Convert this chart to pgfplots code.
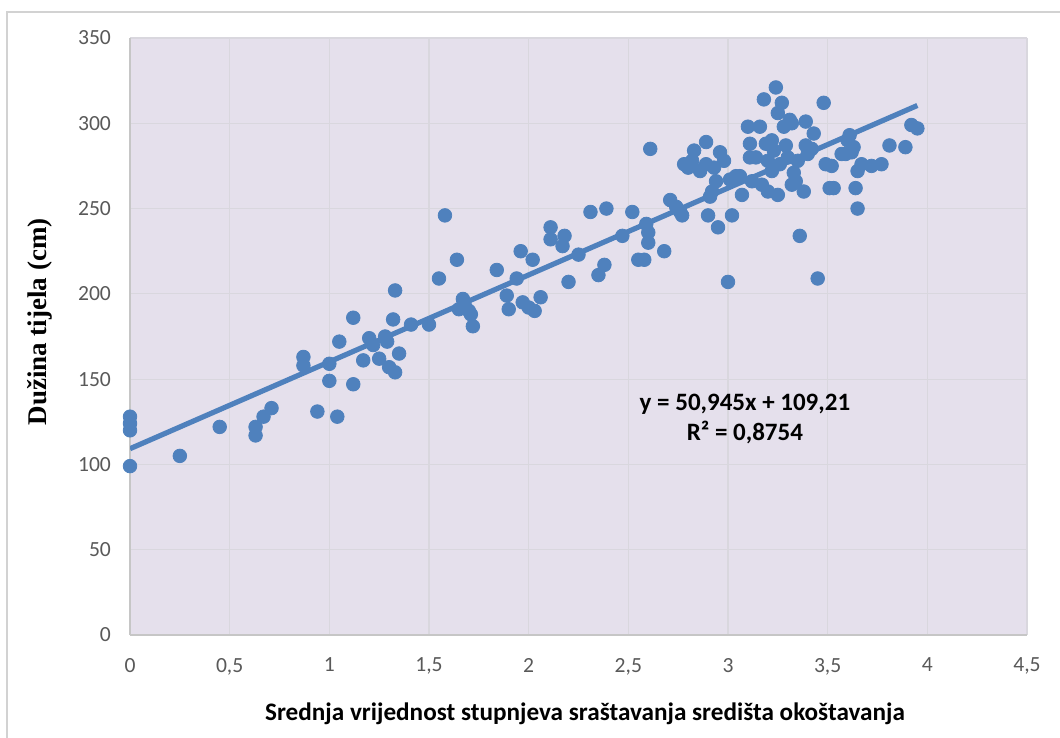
\documentclass[border=0pt]{standalone}
\usepackage{fontspec}
\setmainfont{Carlito}
\newfontfamily\serifbold{Liberation Serif}
\usepackage{pgfplots}
\pgfplotsset{compat=1.18}

\definecolor{plotbg}{RGB}{229,224,236}
\definecolor{ptblue}{RGB}{79,129,189}
\definecolor{gridgray}{RGB}{217,215,222}
\definecolor{ticktext}{RGB}{89,89,89}

\begin{document}
\begin{tikzpicture}
\path[use as bounding box] (0,0) rectangle (530pt,369pt);
% outer chart frame (right and bottom fall outside the crop)
\draw[gray!35, line width=1pt] (3.5pt,-10pt) rectangle (545pt,363pt);

\begin{axis}[
    at={(65pt,51.5pt)}, anchor=south west,
    scale only axis,
    width=448.5pt, height=298.5pt,
    xmin=0, xmax=4.5, ymin=0, ymax=350,
    xtick={0,0.5,...,4.5}, ytick={0,50,...,350},
    axis background/.style={fill=plotbg},
    grid=major,
    grid style={gridgray, line width=0.6pt},
    axis line style={gray!45, line width=0.8pt},
    axis x line*=bottom, axis y line*=left,
    major tick length=0pt,
    tick label style={font=\fontsize{10.8}{12}\selectfont, text=ticktext},
    xticklabel style={yshift=-8pt},
    yticklabel style={xshift=-6pt},
    /pgf/number format/.cd, use comma, assume math mode=true,
]
\addplot[only marks, mark=*, mark size=3.4pt, ptblue, mark options={fill=ptblue, draw=ptblue}] coordinates {
    (0,128) (0,124) (0,120) (0,99) (0.25,105) (0.45,122)
    (0.63,122) (0.63,117) (0.67,128) (0.71,133)
    (0.87,163) (0.87,158) (0.94,131) (1.0,159) (1.0,149) (1.04,128)
    (1.05,172) (1.12,186) (1.12,147) (1.17,161) (1.2,174) (1.22,170)
    (1.25,162) (1.28,175) (1.29,172) (1.3,157) (1.32,185) (1.33,202)
    (1.33,154) (1.35,165) (1.41,182) (1.5,182) (1.55,209) (1.58,246)
    (1.64,220) (1.65,191) (1.67,197) (1.68,193) (1.7,190) (1.71,188)
    (1.72,181) (1.84,214) (1.89,199) (1.9,191) (1.94,209) (1.96,225)
    (1.97,195) (2.0,192) (2.02,220) (2.03,190) (2.06,198) (2.11,239)
    (2.11,232) (2.17,228) (2.18,234) (2.2,207) (2.25,223) (2.31,248)
    (2.35,211) (2.38,217) (2.39,250) (2.47,234) (2.52,248) (2.55,220)
    (2.58,220) (2.59,241) (2.6,236) (2.6,230) (2.61,285) (2.68,225)
    (2.71,255) (2.74,251) (2.76,248) (2.77,246) (2.78,276) (2.8,274)
    (2.82,278) (2.83,284) (2.86,272) (2.89,289) (2.89,276) (2.9,246)
    (2.91,257) (2.92,260) (2.93,274) (2.94,266) (2.95,239) (2.96,283)
    (2.98,278) (3.0,207) (3.01,267) (3.02,246) (3.04,269) (3.06,269)
    (3.07,258) (3.1,298) (3.11,288) (3.11,280) (3.12,266) (3.14,280)
    (3.16,298) (3.17,264) (3.18,314) (3.19,288) (3.2,278) (3.2,260)
    (3.22,290) (3.22,272) (3.23,284) (3.24,321) (3.25,306) (3.25,258)
    (3.26,276) (3.27,312) (3.28,298) (3.29,287) (3.3,280) (3.31,302)
    (3.32,300) (3.32,264) (3.33,271) (3.34,266) (3.35,278) (3.36,234)
    (3.38,260) (3.39,301) (3.39,287) (3.4,282) (3.42,285) (3.43,294)
    (3.45,209) (3.48,312) (3.49,276) (3.51,262) (3.52,275) (3.53,262)
    (3.57,282) (3.59,282) (3.6,290) (3.61,293) (3.62,283) (3.63,286)
    (3.64,262) (3.65,272) (3.65,250) (3.67,276) (3.72,275) (3.77,276)
    (3.81,287) (3.89,286) (3.92,299) (3.95,297)
};
% linear trend line
\addplot[no marks, ptblue, line width=2.6pt] coordinates {(0,109.21) (3.95,310.44)};
\node[font=\bfseries\fontsize{12.5}{15}\selectfont, align=center, inner sep=0pt]
    at (axis cs:3.085,126.5) {y = 50,945x + 109,21\\R² = 0,8754};
\end{axis}

\node[font=\bfseries\fontsize{12.6}{15}\selectfont] at (292.5pt,12pt)
    {Srednja vrijednost stupnjeva sraštavanja središta okoštavanja};
\node[font=\serifbold\bfseries\fontsize{13.5}{15}\selectfont, rotate=90] at (20pt,208pt)
    {Dužina tijela (cm)};
\end{tikzpicture}
\end{document}
